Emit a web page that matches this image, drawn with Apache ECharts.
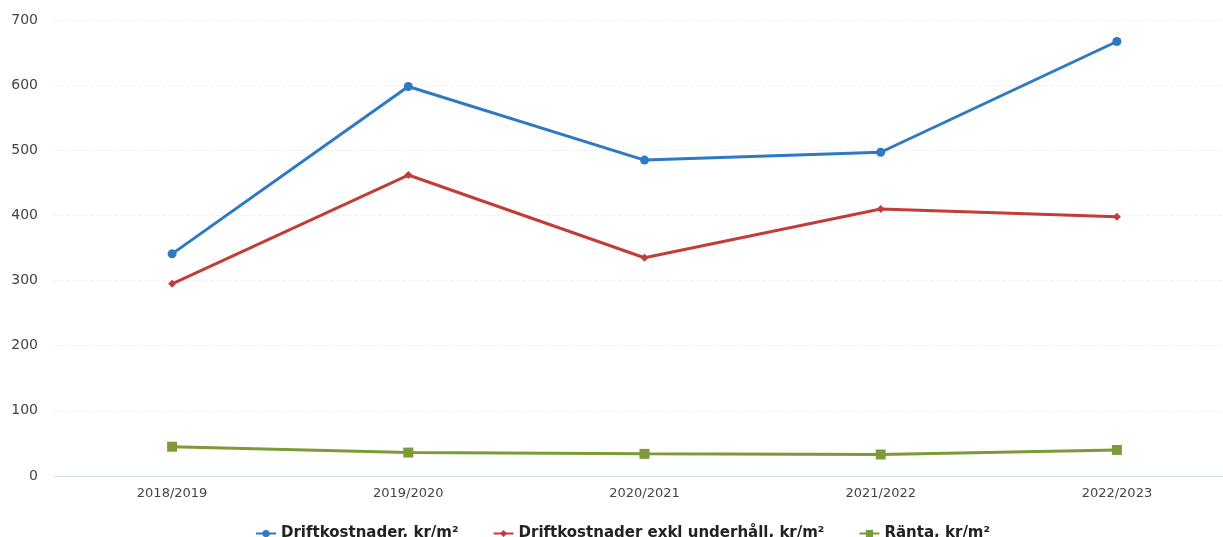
<!DOCTYPE html>
<html>
<head>
<meta charset="utf-8">
<script src="https://cdn.jsdelivr.net/npm/echarts@6/dist/echarts.min.js"></script>
<style>html,body{margin:0;padding:0;background:#fff;overflow:hidden;}#c{width:1235px;height:537px;}</style>
</head>
<body>
<div id="c"></div>
<script>
const categories = ['2018/2019', '2019/2020', '2020/2021', '2021/2022', '2022/2023'];
const drift = [341, 598, 485, 497, 667];
const driftExkl = [295, 462, 335, 410, 398];
const ranta = [45, 36, 34, 33, 40];
const yTicks = [0, 100, 200, 300, 400, 500, 600, 700];

const chart = echarts.init(document.getElementById('c'));
const font = '"DejaVu Sans", Verdana, sans-serif';
chart.setOption({
  backgroundColor: '#fff',
  animation: false,
  grid: { left: 54, top: 20, right: 0, bottom: 61 },
  legend: {
    top: 521, left: 250, itemWidth: 20, itemHeight: 9, itemGap: 34,
    textStyle: { fontFamily: font, fontSize: 15, fontWeight: 'bold', color: '#222' },
    data: ['Driftkostnader, kr/m²', 'Driftkostnader exkl underhåll, kr/m²', 'Ränta, kr/m²']
  },
  xAxis: {
    type: 'category', data: categories, boundaryGap: true,
    axisLine: { lineStyle: { color: '#cfe0ee' } },
    axisTick: { show: false },
    axisLabel: { color: '#444', fontFamily: font, fontSize: 13, margin: 11 }
  },
  yAxis: {
    type: 'value', min: yTicks[0], max: yTicks[yTicks.length - 1], interval: 100,
    axisLabel: { color: '#444', fontFamily: font, fontSize: 14, margin: 16 },
    splitLine: { lineStyle: { color: '#f2f2f2', type: 'dashed' } },
    axisLine: { show: false }, axisTick: { show: false }
  },
  series: [
    { name: 'Driftkostnader, kr/m²', type: 'line', data: drift, symbol: 'circle', symbolSize: 9,
      color: '#2f78c2', lineStyle: { width: 3 } },
    { name: 'Driftkostnader exkl underhåll, kr/m²', type: 'line', data: driftExkl, symbol: 'diamond', symbolSize: 8,
      color: '#c23d38', lineStyle: { width: 3 } },
    { name: 'Ränta, kr/m²', type: 'line', data: ranta, symbol: 'rect', symbolSize: 10,
      color: '#7b9b36', lineStyle: { width: 3 } }
  ]
});
</script>
</body>
</html>
